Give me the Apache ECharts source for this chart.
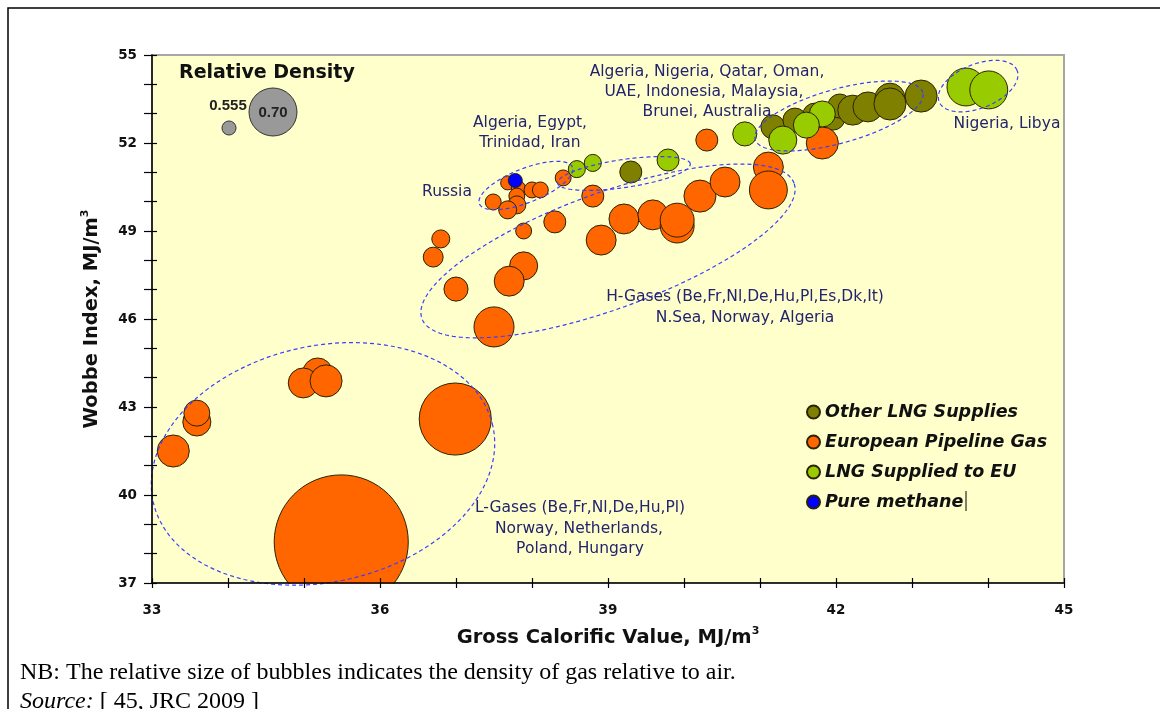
<!DOCTYPE html>
<html>
<head>
<meta charset="utf-8">
<script src="https://cdn.jsdelivr.net/npm/echarts@6/dist/echarts.min.js"></script>
<style>
  html, body { margin: 0; padding: 0; background: #ffffff; }
  #chart { width: 1160px; height: 709px; }
</style>
</head>
<body>
<div id="chart"></div>
<script>
// Wobbe index against gross calorific value of natural gases (MJ/m3);
// bubble size shows the density of each gas relative to air.

const xTickLabels = [33, 36, 39, 42, 45];
const yTickLabels = [37, 40, 43, 46, 49, 52, 55];

// Other LNG supplies
const otherLngGcv     = [39.30, 41.17, 41.46, 41.72, 41.96, 42.05, 42.22, 42.42, 42.71, 42.71, 43.12];
const otherLngWobbe   = [51.01, 52.55, 52.78, 52.95, 52.85, 53.26, 53.12, 53.23, 53.53, 53.33, 53.60];
const otherLngDensity = [0.589, 0.598, 0.598, 0.598, 0.598, 0.598, 0.623, 0.623, 0.623, 0.632, 0.632];

// European pipeline gas (Russian, H-gases, L-gases)
const pipelineGcv = [
  37.68, 37.82, 38.00, 38.11, 37.49, 37.80, 37.80, 37.68, 38.41,
  38.80, 38.30, 37.89, 36.80, 36.70, 38.91, 39.21, 39.59, 39.91, 39.91,
  40.21, 40.54, 41.11, 41.11, 40.30, 41.82, 37.89, 37.70, 37.00, 37.50,
  33.28, 33.59, 33.59, 35.18, 34.99, 35.29, 36.99, 35.49
];
const pipelineWobbe = [
  50.64, 50.47, 50.40, 50.40, 49.99, 50.19, 49.89, 49.72, 50.81,
  50.19, 49.31, 49.00, 48.73, 48.11, 48.69, 49.41, 49.55, 49.17, 49.37,
  50.19, 50.67, 51.18, 50.40, 52.10, 52.00, 47.81, 47.29, 47.02, 45.73,
  41.50, 42.49, 42.79, 44.16, 43.82, 43.89, 42.59, 38.40
];
const pipelineDensity = [
  0.555, 0.555, 0.563, 0.563, 0.563, 0.563, 0.572, 0.572, 0.563,
  0.589, 0.589, 0.563, 0.572, 0.580, 0.623, 0.623, 0.623, 0.640, 0.640,
  0.632, 0.623, 0.623, 0.657, 0.589, 0.632, 0.615, 0.623, 0.598, 0.666,
  0.632, 0.615, 0.606, 0.623, 0.623, 0.632, 0.803, 1.068
];

// LNG supplied to the EU
const lngEuGcv     = [38.59, 38.80, 39.79, 40.80, 41.82, 41.61, 41.30, 43.71, 44.01];
const lngEuWobbe   = [51.11, 51.32, 51.42, 52.31, 52.99, 52.61, 52.10, 53.91, 53.81];
const lngEuDensity = [0.568, 0.568, 0.589, 0.598, 0.606, 0.606, 0.615, 0.657, 0.657];

// Pure methane
const methaneGcv     = [37.78];
const methaneWobbe   = [50.72];
const methaneDensity = [0.555];

// Reference densities for the size key
const densityKey = [0.555, 0.70];

// bubble diameter (px) from relative density
const sizeOf = d => 234 * (d - 0.495);

const zip = (xs, ys, ds) => xs.map((x, i) => [x, ys[i], ds[i]]);

// dashed outlines around gas groups: centre in axis units, half-axes in px, tilt in degrees
const groupOutlines = [
  [35.25, 41.06, 174, 118, 12.7],   // L-gases
  [39.00, 48.32, 198, 58, 20],      // H-gases
  [37.92, 50.55, 50, 17, 21.5],     // Russia
  [39.21, 50.96, 67, 14, 8.3],      // Algeria, Egypt, Trinidad, Iran
  [42.04, 52.92, 87, 27, 15.6],     // Algeria ... Australia
  [43.87, 53.94, 42, 22, 22]        // Nigeria, Libya
];

const bubbleBorder = { borderColor: '#2b2200', borderWidth: 1 };

const chart = echarts.init(document.getElementById('chart'), null, { renderer: 'canvas' });

const annoFont = { fontFamily: 'DejaVu Sans', fontSize: 15.5, fill: '#23236e' };
function note(text, x, y) {
  return { type: 'text', x: x, y: y,
    style: Object.assign({ text: text, textAlign: 'center', textVerticalAlign: 'middle' }, annoFont),
    z: 20 };
}

const titleStyle = {
  fontFamily: 'DejaVu Sans', fontWeight: 'bold', fontSize: 19.5, color: '#111', lineHeight: 24,
  rich: { sup: { fontFamily: 'DejaVu Sans', fontWeight: 'bold', fontSize: 11, color: '#111', verticalAlign: 'top', lineHeight: 12 } }
};
const tickFont = { fontFamily: 'DejaVu Sans', fontWeight: 'bold', fontSize: 13.5, color: '#111' };

const option = {
  animation: false,
  backgroundColor: '#ffffff',
  grid: {
    left: 152, top: 55, width: 912, height: 528,
    show: true, backgroundColor: '#ffffcc', borderColor: '#a6a6a6', borderWidth: 2
  },
  xAxis: [
    {
      type: 'value', min: 33, max: 45, interval: 1, position: 'bottom', z: 12,
      name: 'Gross Calorific Value, MJ/m{sup|3}', nameLocation: 'middle', nameGap: 43,
      nameTextStyle: titleStyle,
      axisLine: { show: true, lineStyle: { color: '#000', width: 1.5 } },
      axisTick: { show: true, inside: false, length: 5, lineStyle: { color: '#000', width: 1.2 } },
      axisLabel: Object.assign({
        margin: 20,
        formatter: v => (xTickLabels.indexOf(v) >= 0 ? String(v) : '')
      }, tickFont),
      splitLine: { show: false }
    },
    {
      type: 'value', min: 33, max: 45, interval: 1, position: 'bottom', offset: 0, z: 12,
      axisLine: { show: false }, axisLabel: { show: false }, splitLine: { show: false },
      axisTick: { show: true, inside: true, length: 5, lineStyle: { color: '#000', width: 1.2 } }
    }
  ],
  yAxis: [
    {
      type: 'value', min: 37, max: 55, interval: 1, position: 'left', z: 12,
      name: 'Wobbe Index, MJ/m{sup|3}', nameLocation: 'middle', nameGap: 48, nameRotate: 90,
      nameTextStyle: titleStyle,
      axisLine: { show: true, lineStyle: { color: '#000', width: 1.5 } },
      axisTick: { show: true, inside: false, length: 8, lineStyle: { color: '#000', width: 1.2 } },
      axisLabel: Object.assign({
        margin: 15,
        formatter: v => (yTickLabels.indexOf(v) >= 0 ? String(v) : '')
      }, tickFont),
      splitLine: { show: false }
    },
    {
      type: 'value', min: 37, max: 55, interval: 1, position: 'left', offset: 0, z: 12,
      axisLine: { show: false }, axisLabel: { show: false }, splitLine: { show: false },
      axisTick: { show: true, inside: true, length: 5, lineStyle: { color: '#000', width: 1.2 } }
    }
  ],
  legend: {
    orient: 'vertical', left: 801, top: 397, itemWidth: 13, itemHeight: 13, itemGap: 10,
    icon: 'circle',
    textStyle: { fontFamily: 'DejaVu Sans', fontSize: 17.5, fontWeight: 'bold', fontStyle: 'italic', color: '#111', lineHeight: 20 },
    data: ['Other LNG Supplies', 'European Pipeline Gas', 'LNG Supplied to EU', 'Pure methane']
  },
  series: [
    {
      name: 'Other LNG Supplies', type: 'scatter', symbol: 'circle',
      data: zip(otherLngGcv, otherLngWobbe, otherLngDensity),
      symbolSize: v => sizeOf(v[2]),
      itemStyle: Object.assign({ color: '#7f7f00', opacity: 1 }, bubbleBorder), z: 3
    },
    {
      name: 'European Pipeline Gas', type: 'scatter', symbol: 'circle',
      data: zip(pipelineGcv, pipelineWobbe, pipelineDensity),
      symbolSize: v => sizeOf(v[2]),
      itemStyle: Object.assign({ color: '#ff6600', opacity: 1 }, bubbleBorder), z: 4
    },
    {
      name: 'LNG Supplied to EU', type: 'scatter', symbol: 'circle',
      data: zip(lngEuGcv, lngEuWobbe, lngEuDensity),
      symbolSize: v => sizeOf(v[2]),
      itemStyle: Object.assign({ color: '#99cc00', opacity: 1 }, bubbleBorder), z: 5
    },
    {
      name: 'Pure methane', type: 'scatter', symbol: 'circle',
      data: zip(methaneGcv, methaneWobbe, methaneDensity),
      symbolSize: v => sizeOf(v[2]),
      itemStyle: Object.assign({ color: '#0000ff', opacity: 1 }, bubbleBorder), z: 6
    },
    {
      name: 'outlines', type: 'custom', silent: true, z: 10,
      data: groupOutlines, encode: { x: 0, y: 1 },
      renderItem: function (params, api) {
        const c = api.coord([api.value(0), api.value(1)]);
        const a = api.value(2), b = api.value(3), phi = api.value(4) * Math.PI / 180;
        const pts = [];
        for (let i = 0; i < 180; i++) {
          const t = i / 180 * Math.PI * 2;
          const ex = a * Math.cos(t), ey = b * Math.sin(t);
          pts.push([c[0] + ex * Math.cos(phi) - ey * Math.sin(phi),
                    c[1] - (ex * Math.sin(phi) + ey * Math.cos(phi))]);
        }
        return {
          type: 'polygon', shape: { points: pts },
          style: { fill: 'none', stroke: '#3d3dff', lineWidth: 1.2, lineDash: [4, 3] }
        };
      }
    }
  ]
};

chart.setOption(option);

// plot-area geometry, used to trim bubbles that run past the x axis
const gridRect = chart.getModel().getComponent('grid').coordinateSystem.getRect();

const keyR0 = sizeOf(densityKey[0]) / 2;
const keyR1 = sizeOf(densityKey[1]) / 2;
const keyFont = { fontFamily: 'Liberation Sans Narrow, Liberation Sans', fontWeight: 'bold', fontSize: 15,
  fill: '#222', textAlign: 'center', textVerticalAlign: 'middle' };

const graphics = [
  // white band below the plot area hides the overflow of the largest bubble
  { type: 'rect', shape: { x: gridRect.x - 40, y: gridRect.y + gridRect.height + 0.8, width: gridRect.width + 80, height: 40 },
    style: { fill: '#ffffff' }, z: 8, silent: true },
  // page frame
  { type: 'polyline', shape: { points: [[1160, 8], [8, 8], [8, 709]] },
    style: { stroke: '#000', lineWidth: 1.5, fill: 'none' }, z: 30 },
  // size key
  { type: 'text', x: 179, y: 73,
    style: { text: 'Relative Density', fontFamily: 'DejaVu Sans', fontWeight: 'bold', fontSize: 19,
      fill: '#111', textVerticalAlign: 'middle' }, z: 20 },
  { type: 'circle', shape: { cx: 229, cy: 128, r: keyR0 },
    style: { fill: '#999999', stroke: '#333', lineWidth: 1 }, z: 20 },
  { type: 'circle', shape: { cx: 273, cy: 112, r: keyR1 },
    style: { fill: '#999999', stroke: '#333', lineWidth: 1 }, z: 20 },
  { type: 'text', x: 228, y: 106, style: Object.assign({ text: String(densityKey[0]) }, keyFont), z: 21 },
  { type: 'text', x: 273, y: 113, style: Object.assign({ text: densityKey[1].toFixed(2) }, keyFont), z: 21 },

  note('Algeria, Nigeria, Qatar, Oman,', 707, 72),
  note('UAE, Indonesia, Malaysia,', 704, 92),
  note('Brunei, Australia', 707, 112),
  note('Algeria, Egypt,', 530, 123),
  note('Trinidad, Iran', 530, 143),
  note('Russia', 447, 192),
  note('Nigeria, Libya', 1007, 124),
  note('H-Gases (Be,Fr,Nl,De,Hu,Pl,Es,Dk,It)', 745, 297),
  note('N.Sea, Norway, Algeria', 745, 318),
  note('L-Gases (Be,Fr,Nl,De,Hu,Pl)', 580, 508),
  note('Norway, Netherlands,', 579, 529),
  note('Poland, Hungary', 580, 549),

  // text cursor left after the last legend entry
  { type: 'line', shape: { x1: 966, y1: 491, x2: 966, y2: 511 }, style: { stroke: '#000', lineWidth: 1 }, z: 20 },

  { type: 'text', x: 20, y: 673,
    style: { text: 'NB: The relative size of bubbles indicates the density of gas relative to air.',
      fontFamily: 'Liberation Serif', fontSize: 24, fill: '#000', textVerticalAlign: 'middle' }, z: 20 },
  { type: 'text', x: 20, y: 702,
    style: { text: '{i|Source:} [ 45, JRC 2009 ]',
      fontFamily: 'Liberation Serif', fontSize: 24, fill: '#000', textVerticalAlign: 'middle',
      rich: { i: { fontFamily: 'Liberation Serif', fontSize: 24, fontStyle: 'italic', fill: '#000' } } }, z: 20 }
];
chart.setOption({ graphic: graphics });
</script>
</body>
</html>
